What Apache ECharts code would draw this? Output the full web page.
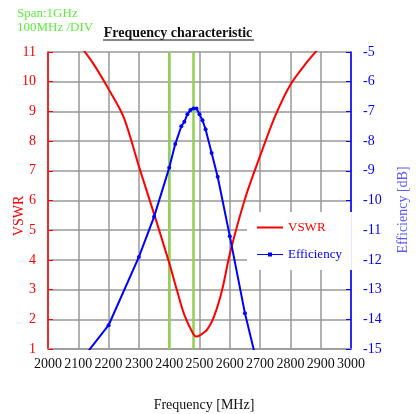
<!DOCTYPE html>
<html>
<head>
<meta charset="utf-8">
<script src="https://cdn.jsdelivr.net/npm/echarts/dist/echarts.min.js"></script>
<style>
  html, body { margin: 0; padding: 0; background: #fff; }
  #chart { width: 416px; height: 414px; }
</style>
</head>
<body>
<div id="chart"></div>
<script>
// frequencies in MHz
const vswrFreq = [2100, 2150, 2200, 2250, 2300, 2350, 2400, 2425, 2450, 2480, 2490, 2500, 2525, 2550, 2575, 2600, 2650, 2700, 2750, 2800, 2850, 2900]
const vswrVals = [11.3, 10.6, 9.75, 8.8, 7.15, 5.55, 3.9, 3.0, 2.15, 1.5, 1.42, 1.45, 1.65, 2.15, 3.0, 4.2, 6.05, 7.5, 8.85, 9.9, 10.6, 11.2]

const effFreq = [2100, 2200, 2300, 2350, 2400, 2420, 2440, 2450, 2460, 2470, 2480, 2490, 2500, 2510, 2520, 2540, 2560, 2600, 2650, 2700]
const effVals = [-15.5, -14.2, -11.9, -10.55, -8.9, -8.1, -7.5, -7.35, -7.1, -6.95, -6.9, -6.9, -7.1, -7.3, -7.6, -8.4, -9.2, -11.2, -13.8, -15.9]

const bandEdges = [2400, 2480]

const RED = '#ff0000'
const BLUE = '#0000ff'
const GREEN = '#92d050'
const SERIF = '"Liberation Serif", "DejaVu Serif", serif'

const chart = echarts.init(document.getElementById('chart'))

chart.setOption({
  animation: false,
  grid: { left: 48, right: 65, top: 52, bottom: 65 },
  legend: {
    orient: 'vertical',
    left: 247,
    top: 212,
    padding: [9, 10, 9, 10],
    itemGap: 14,
    itemWidth: 26,
    itemHeight: 5,
    backgroundColor: '#fff',
    textStyle: { fontFamily: SERIF, fontSize: 13 },
    data: [
      { name: 'VSWR', icon: 'path://M0,0H26V2H0Z', textStyle: { color: RED } },
      { name: 'Efficiency', icon: 'path://M0,1.8H11V0.3H15V1.8H26V2.7H15V4.2H11V2.7H0Z', textStyle: { color: BLUE } },
    ],
  },
  xAxis: {
    type: 'value',
    min: 2000,
    max: 3000,
    interval: 100,
    axisLine: { lineStyle: { color: '#999', width: 1.5 } },
    axisTick: { show: false },
    axisLabel: {
      color: '#111', fontFamily: SERIF, fontSize: 14, margin: 8,
      showMinLabel: true, showMaxLabel: true, hideOverlap: false,
      formatter: v => String(v),
    },
    splitLine: { lineStyle: { color: '#999', width: 1.5 } },
  },
  yAxis: [
    {
      type: 'value',
      min: 1,
      max: 11,
      interval: 1,
      position: 'left',
      axisLine: { show: true, lineStyle: { color: RED, width: 1.5 } },
      axisTick: { show: true, inside: true, length: 5, lineStyle: { color: RED } },
      axisLabel: { color: RED, fontFamily: SERIF, fontSize: 14, margin: 12 },
      splitLine: { lineStyle: { color: '#999', width: 1.5 } },
    },
    {
      type: 'value',
      min: -15,
      max: -5,
      interval: 1,
      position: 'right',
      axisLine: { show: true, lineStyle: { color: BLUE, width: 1.5 } },
      axisTick: { show: true, inside: true, length: 5, lineStyle: { color: BLUE } },
      axisLabel: { color: BLUE, fontFamily: SERIF, fontSize: 14, margin: 12 },
      splitLine: { show: false },
    },
  ],
  series: [
    {
      name: 'VSWR',
      type: 'line',
      yAxisIndex: 0,
      data: vswrFreq.map((f, i) => [f, vswrVals[i]]),
      smooth: 0.3,
      showSymbol: false,
      symbol: 'none',
      color: RED,
      lineStyle: { color: RED, width: 2 },
      z: 3,
      markLine: {
        silent: true,
        symbol: 'none',
        label: { show: false },
        lineStyle: { color: GREEN, width: 2.5, type: 'solid' },
        data: bandEdges.map(f => ({ xAxis: f })),
        z: 1,
      },
    },
    {
      name: 'Efficiency',
      type: 'line',
      yAxisIndex: 1,
      data: effFreq.map((f, i) => [f, effVals[i]]),
      symbol: 'circle',
      symbolSize: 4,
      color: BLUE,
      itemStyle: { color: BLUE },
      lineStyle: { color: BLUE, width: 2 },
      z: 4,
    },
  ],
  graphic: [
    { type: 'text', left: 17, top: 7, style: { text: 'Span:1GHz', fill: '#5cee3c', font: '13px ' + SERIF } },
    { type: 'text', left: 17, top: 21, style: { text: '100MHz /DIV', fill: '#5cee3c', font: '13px ' + SERIF } },
    { type: 'text', x: 178, y: 33, style: { text: 'Frequency characteristic', fill: '#111', font: 'bold 14px ' + SERIF, align: 'center', verticalAlign: 'middle' } },
    { type: 'line', shape: { x1: 103, y1: 40, x2: 254, y2: 40 }, style: { stroke: '#111', lineWidth: 1.2 } },
    { type: 'text', x: 204, y: 405, style: { text: 'Frequency [MHz]', fill: '#111', font: '14px ' + SERIF, align: 'center', verticalAlign: 'middle' } },
    { type: 'text', x: 19, y: 216, rotation: Math.PI / 2, style: { text: 'VSWR', fill: RED, font: '14px ' + SERIF, align: 'center', verticalAlign: 'middle' } },
    { type: 'text', x: 403, y: 210, rotation: Math.PI / 2, style: { text: 'Efficiency [dB]', fill: '#5a5aff', font: '14px ' + SERIF, align: 'center', verticalAlign: 'middle' } },
  ],
})
</script>
</body>
</html>
